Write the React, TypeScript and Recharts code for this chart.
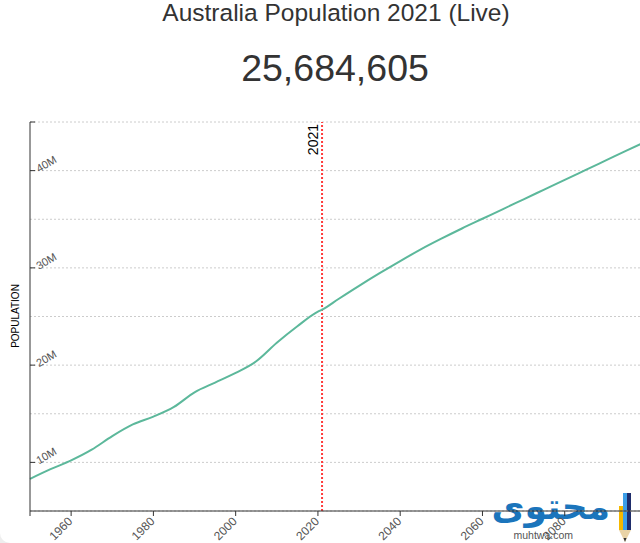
import { CartesianGrid, Line, LineChart, ReferenceLine, XAxis, YAxis } from 'recharts'

const years = [1950, 1955, 1960, 1965, 1970, 1975, 1980, 1985, 1990, 1995, 2000, 2005, 2010, 2015, 2020, 2021, 2025, 2030, 2035, 2040, 2045, 2050, 2055, 2060, 2065, 2070, 2075, 2080, 2085, 2090, 2095, 2100]
const population = [8.3, 9.3, 10.2, 11.3, 12.7, 13.9, 14.7, 15.7, 17.2, 18.2, 19.2, 20.4, 22.3, 24.0, 25.5, 25.7, 26.8, 28.15, 29.45, 30.7, 31.9, 33.0, 34.05, 35.05, 36.05, 37.05, 38.05, 39.05, 40.05, 41.05, 42.05, 43.05]
const xTicks = [1950, 1960, 1980, 2000, 2020, 2040, 2060, 2080, 2100]
const yTicks = [5, 10, 15, 20, 25, 30, 35, 40, 45].map((m) => m * 1e6)
const currentYear = 2021
const title = 'Australia Population 2021 (Live)'
const liveCount = '25,684,605'

const data = years.map((year, i) => ({ year, pop: population[i] * 1e6 }))

const FONT = '"Liberation Sans", Arial, sans-serif'

function XTick({ x, y, payload }: any) {
  // first and last ticks are just the axis ends
  if (payload.value === 1950 || payload.value === 2100) return null
  return (
    <text x={x + 2} y={y + 6} transform={`rotate(-45 ${x + 2} ${y + 6})`} textAnchor="end" fontSize={12} fill="#555" fontFamily={FONT}>
      {payload.value}
    </text>
  )
}

function YTick({ x, y, payload }: any) {
  const m = payload.value / 1e6
  if (m === 45) return <line x1={x} x2={x + 5} y1={y} y2={y} stroke="#333" />
  if (m % 10 !== 0) return null
  return (
    <g>
      <line x1={x} x2={x + 5} y1={y} y2={y} stroke="#333" />
      <text x={x + 9} y={y + 2} transform={`rotate(-30 ${x + 9} ${y + 2})`} fontSize={11} fill="#555" fontFamily={FONT}>
        {`${m}M`}
      </text>
    </g>
  )
}

export default function App() {
  return (
    <div style={{ position: 'fixed', left: 0, top: 0, width: 640, height: 543, overflow: 'hidden', background: '#eeeeee' }}>
      <div style={{ position: 'absolute', left: 0, top: -20, width: 690, height: 563, background: '#fff', borderRadius: 10 }} />
      {/* watermark sits behind the chart */}
      <svg width={640} height={543} style={{ position: 'absolute', left: 0, top: 0 }}>
        <text x={610} y={519} textAnchor="end" fontSize={36} fontWeight="bold" fill="#1b75bc" fontFamily='"DejaVu Sans", sans-serif'>محتوى</text>
        <text x={573} y={539} textAnchor="end" fontSize={10.5} fill="#555" fontFamily={FONT}>muhtwa.com</text>
        <rect x={619} y={506} width={4} height={24} fill="#f5b800" />
        <rect x={623} y={493} width={4} height={37} fill="#3c9ee8" />
        <rect x={627} y={493} width={4} height={37} fill="#1f2d6b" />
        <polygon points="619,530 631,530 625,542" fill="#e9d3a6" />
        <polygon points="623.5,538 626.5,538 625,542" fill="#333" />
      </svg>
      <div style={{ position: 'absolute', left: 0, top: 0 }}>
        <LineChart width={672} height={543} data={data} margin={{ top: 122, right: 25, left: 0, bottom: 0 }}>
          <CartesianGrid vertical={false} stroke="#cccccc" strokeDasharray="2 2" />
          <XAxis
            dataKey="year"
            type="number"
            domain={[1950, 2100]}
            ticks={xTicks}
            height={32}
            tickSize={5}
            tickMargin={0}
            stroke="#333"
            tick={<XTick />}
            interval={0}
          />
          <YAxis
            type="number"
            domain={[5e6, 45e6]}
            ticks={yTicks}
            width={30}
            tickSize={0}
            tickMargin={0}
            tickLine={false}
            stroke="#333"
            tick={<YTick />}
            interval={0}
          />
          <ReferenceLine x={currentYear} stroke="#ff3b3b" strokeWidth={2} strokeDasharray="2 2" />
          <Line type="monotone" dataKey="pop" stroke="#5cb89b" strokeWidth={2} dot={false} isAnimationActive={false} />
        </LineChart>
      </div>
      <svg width={640} height={543} style={{ position: 'absolute', left: 0, top: 0, pointerEvents: 'none' }}>
        <text x={336} y={21} textAnchor="middle" fontSize={24.5} fill="#333" fontFamily={FONT}>{title}</text>
        <text x={335} y={81} textAnchor="middle" fontSize={37.5} fill="#333" fontFamily={FONT}>{liveCount}</text>
        <text x={19} y={316} transform="rotate(-90 19 316)" textAnchor="middle" fontSize={10} fill="#000" fontFamily={FONT}>POPULATION</text>
        <text x={318} y={124} transform="rotate(-90 318 124)" textAnchor="end" fontSize={14} fill="#000" fontFamily={FONT}>{currentYear}</text>
      </svg>
    </div>
  )
}
